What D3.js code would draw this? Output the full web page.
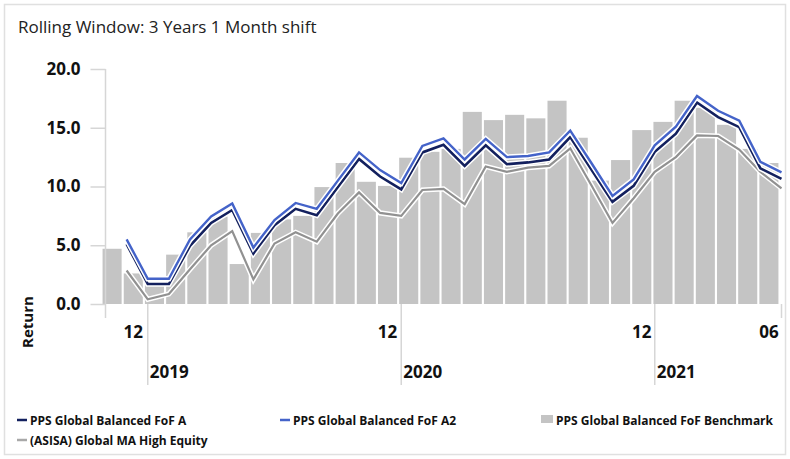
<!DOCTYPE html>
<html lang="en">
<head>
<meta charset="utf-8">
<title>Rolling Window: 3 Years 1 Month shift</title>
<script src="https://cdn.jsdelivr.net/npm/d3@7"></script>
<style>
	body { margin: 0; background: #fff; }
	text { font-family: "Open Sans", "Noto Sans", sans-serif; fill: #111; }
</style>
</head>
<body>
<script>

// month categories (Nov 2018 .. Jun 2021)
var months = ["2018-11","2018-12",
	"2019-01","2019-02","2019-03","2019-04","2019-05","2019-06","2019-07","2019-08","2019-09","2019-10","2019-11","2019-12",
	"2020-01","2020-02","2020-03","2020-04","2020-05","2020-06","2020-07","2020-08","2020-09","2020-10","2020-11","2020-12",
	"2021-01","2021-02","2021-03","2021-04","2021-05","2021-06"];

var fundA = [5.1, 1.7, 1.7, 4.95, 6.9, 8.0, 4.3, 6.7, 8.1, 7.55, 9.95, 12.35, 10.85, 9.75, 12.9, 13.55,
	11.75, 13.5, 11.9, 12.05, 12.3, 14.2, 11.45, 8.7, 10.05, 12.95, 14.5, 17.15, 15.9, 15.05, 11.55, 10.65];
var fundA2 = [5.5, 2.15, 2.15, 5.5, 7.45, 8.55, 4.8, 7.15, 8.6, 8.1, 10.5, 12.9, 11.4, 10.3, 13.45, 14.1,
	12.3, 14.05, 12.5, 12.6, 12.9, 14.75, 12.0, 9.2, 10.6, 13.5, 15.1, 17.7, 16.45, 15.6, 12.1, 11.2];
var benchmark = [4.7, 2.6, 1.6, 4.2, 6.1, 7.45, 3.4, 6.05, 7.2, 7.5, 9.95, 12.0, 10.4, 10.05, 12.45, 12.95,
	13.2, 16.35, 15.65, 16.1, 15.8, 17.3, 14.15, 10.5, 12.25, 14.8, 15.5, 17.3, 16.7, 15.25, 13.2, 12.0];
var sector = [2.85, 0.4, 0.85, 2.95, 5.0, 6.2, 2.1, 5.15, 6.1, 5.3, 7.7, 9.5, 7.75, 7.5, 9.7, 9.8,
	8.5, 11.7, 11.25, 11.6, 11.75, 13.25, 10.1, 6.9, 9.0, 11.25, 12.5, 14.35, 14.3, 13.15, 11.25, 9.85];

var yTicks = [0, 5, 10, 15, 20];

var seriesNames = ["PPS Global Balanced FoF A", "PPS Global Balanced FoF A2",
	"PPS Global Balanced FoF Benchmark", "(ASISA) Global MA High Equity"];
var colors = {A: "#13205e", A2: "#4463c9", bench: "#c4c4c4", sector: "#919191"};
var axisColor = "#d6d6d6";

var W = 790, H = 459;

var svg = d3.select("body").append("svg")
	.attr("width", W)
	.attr("height", H);

// outer frame
svg.append("rect")
	.attr("x", 4.5).attr("y", 4.5)
	.attr("width", W - 9).attr("height", H - 9)
	.attr("fill", "#fff")
	.attr("stroke", "#e0e0e0")
	.attr("stroke-width", 1.5);

svg.append("text")
	.attr("x", 18).attr("y", 33)
	.style("font-size", "17px")
	.style("fill", "#222")
	.text("Rolling Window: 3 Years 1 Month shift");

// scales
var xEdge = d3.scaleLinear().domain([0, months.length]).range([105.5, 781.5]);  // month boundaries
var xBar = d3.scaleBand().domain(months).range([101.5, 779.5]).paddingInner(0.1).paddingOuter(0.05);
var y = d3.scaleLinear().domain([0, 20]).range([304, 69]);

// bars
svg.selectAll(".bar")
	.data(benchmark)
	.enter().append("rect")
	.attr("class", "bar")
	.attr("x", function(d, i) { return xBar(months[i]); })
	.attr("y", function(d) { return y(d); })
	.attr("width", xBar.bandwidth())
	.attr("height", function(d) { return y(0) - y(d); })
	.attr("fill", colors.bench);

// y axis
var yAxis = d3.axisLeft(y)
	.tickValues(yTicks)
	.tickFormat(d3.format(".1f"))
	.tickSize(15)
	.tickSizeOuter(0)
	.tickPadding(10);

var gy = svg.append("g")
	.attr("transform", "translate(" + xEdge(0) + ",0)")
	.call(yAxis);
gy.select(".domain").remove();
gy.selectAll(".tick line").attr("stroke", axisColor).attr("stroke-width", 1.5);
gy.selectAll(".tick text")
	.style("font-size", "17px")
	.style("font-weight", "bold")
	.attr("fill", "#111");

svg.append("line")
	.attr("x1", xEdge(0)).attr("x2", xEdge(0))
	.attr("y1", y(20)).attr("y2", y(0) + 14)
	.attr("stroke", axisColor).attr("stroke-width", 1.5);

svg.append("text")
	.attr("transform", "translate(33,322) rotate(-90)")
	.attr("text-anchor", "middle")
	.style("font-size", "15px")
	.style("font-weight", "bold")
	.text("Return");

// x axis: end ticks, year dividers and labels
svg.append("line")
	.attr("x1", xEdge(months.length)).attr("x2", xEdge(months.length))
	.attr("y1", y(0)).attr("y2", y(0) + 14)
	.attr("stroke", axisColor).attr("stroke-width", 1.5);

var janIdx = [];
months.forEach(function(m, i) { if (m.slice(5) === "01") janIdx.push(i); });

svg.selectAll(".yearline")
	.data(janIdx)
	.enter().append("line")
	.attr("x1", function(i) { return xEdge(i); })
	.attr("x2", function(i) { return xEdge(i); })
	.attr("y1", y(0)).attr("y2", y(0) + 81)
	.attr("stroke", axisColor).attr("stroke-width", 1.5);

svg.selectAll(".yearlabel")
	.data(janIdx)
	.enter().append("text")
	.attr("x", function(i) { return xEdge(i) + 2; })
	.attr("y", y(0) + 74)
	.style("font-size", "17px")
	.style("font-weight", "bold")
	.text(function(i) { return months[i].slice(0, 4); });

var labelMonths = months.filter(function(m, i) { return m.slice(5) === "12" || i === months.length - 1; });
svg.selectAll(".monthlabel")
	.data(labelMonths)
	.enter().append("text")
	.attr("x", function(m) { return xBar(m) + xBar.bandwidth() / 2; })
	.attr("y", y(0) + 34)
	.attr("text-anchor", "middle")
	.style("font-size", "17px")
	.style("font-weight", "bold")
	.text(function(m) { return m.slice(5); });

// lines: each month value plotted at the end of its month
var line = d3.line()
	.x(function(d, i) { return xEdge(i + 1); })
	.y(function(d) { return y(d); });

[[sector, colors.sector, 2.2], [fundA, colors.A, 2.6], [fundA2, colors.A2, 2.4]].forEach(function(s) {
	svg.append("path")
		.attr("d", line(s[0]))
		.attr("fill", "none")
		.attr("stroke", "#fff")
		.attr("stroke-width", s[2] + 3)
		.attr("stroke-linejoin", "miter");
	svg.append("path")
		.attr("d", line(s[0]))
		.attr("fill", "none")
		.attr("stroke", s[1])
		.attr("stroke-width", s[2])
		.attr("stroke-linejoin", "miter");
});

// legend
var legend = [
	{name: seriesNames[0], type: "line", color: colors.A, x: 17, y: 423},
	{name: seriesNames[1], type: "line", color: colors.A2, x: 280, y: 423},
	{name: seriesNames[2], type: "rect", color: colors.bench, x: 541, y: 423},
	{name: seriesNames[3], type: "line", color: "#a8a8a8", x: 17, y: 443}
];

var lg = svg.selectAll(".legend")
	.data(legend)
	.enter().append("g")
	.attr("transform", function(d) { return "translate(" + d.x + "," + d.y + ")"; });

lg.filter(function(d) { return d.type === "line"; })
	.append("line")
	.attr("x1", 0).attr("x2", 10)
	.attr("y1", -3).attr("y2", -3)
	.attr("stroke", function(d) { return d.color; })
	.attr("stroke-width", 2.5);

lg.filter(function(d) { return d.type === "rect"; })
	.append("rect")
	.attr("x", 0).attr("y", -8)
	.attr("width", 12).attr("height", 8)
	.attr("fill", function(d) { return d.color; });

lg.append("text")
	.attr("x", function(d) { return d.type === "rect" ? 15 : 13; })
	.attr("y", 2)
	.style("font-size", "12px")
	.style("font-weight", "bold")
	.text(function(d) { return d.name; });

</script>
</body>
</html>
